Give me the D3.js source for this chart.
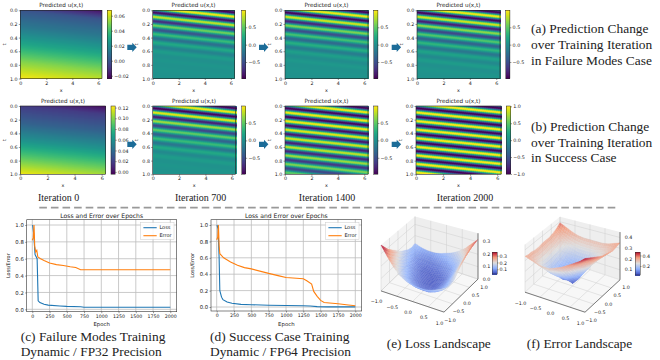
<!DOCTYPE html>
<html>
<head>
<meta charset="utf-8">
<script src="https://cdn.jsdelivr.net/npm/d3@7/dist/d3.min.js"></script>
<style>
body { margin: 0; background: #fff; }
text { font-family: "DejaVu Sans", sans-serif; fill: #222; }
.cap { font-family: "Liberation Serif", serif; fill: #222; }
.axis path { display: none; }
.axis line { stroke: #333; stroke-width: 0.5; }
.axis text { font-size: 4.8px; }
.ln text { font-size: 4.7px; }
.ly text { font-size: 5.3px; }
.cell { shape-rendering: crispEdges; }
</style>
</head>
<body>
<svg width="660" height="360"></svg>
<script>
// ---- heatmaps: u at the ridge/trough positions, read along the left edge of each panel
var stripePos = [-0.157,-0.094,-0.031,0.031,0.094,0.157,0.220,0.283,0.346,0.408,0.471,0.534,0.597,0.660,0.723,0.785,0.848,0.911,0.974,1.037];
var u700a  = [0.9,-0.95,0.95,-0.9,0.8,-0.7,0.55,-0.45,0.35,-0.25,0.2,-0.1,0.1,0,0.05,0.02,0.04,0.03,0.03,0.03];
var u1400a = [0.9,-0.95,0.95,-0.95,0.85,-0.75,0.6,-0.5,0.4,-0.3,0.25,-0.15,0.12,-0.02,0.07,0.02,0.04,0.03,0.03,0.03];
var u2000a = [0.9,-0.95,0.95,-0.95,0.85,-0.8,0.65,-0.55,0.45,-0.35,0.3,-0.2,0.15,-0.05,0.1,0,0.05,0.03,0.03,0.03];
var u700b  = [0.9,-0.95,0.95,-0.95,0.9,-0.8,0.7,-0.55,0.5,-0.35,0.35,-0.2,0.2,-0.05,0.1,0.02,0.05,0.03,0.04,0.03];
var u1400b = [0.9,-0.95,0.95,-0.95,0.95,-0.95,0.95,-0.9,0.9,-0.85,0.85,-0.8,0.8,-0.75,0.7,-0.65,0.6,-0.55,0.5,-0.45];
var u2000b = [0.95,-1,1,-1,1,-1,1,-1,1,-1,1,-1,1,-1,1,-1,1,-1,1,-1];
var smoothPos = [-0.13,0,0.25,0.5,0.75,1];
var u0a = [-0.02,0.0,0.013,0.03,0.05,0.066];
var u0b = [-0.003,0.018,0.035,0.06,0.09,0.12];

var ticks0a = [-0.02,0,0.02,0.04,0.06];
var ticks0b = [0,0.02,0.04,0.06,0.08,0.10,0.12];
var ticksStripe = [-0.5,0,0.5];
var ticks2000b = [-1,-0.5,0,0.5,1];

// ---- training curves
var epochLossC = [5,20,40,70,85,110,170,230,400,500,700,750,1000,2000];
var lossC = [1,0.9,0.65,0.6,0.1,0.08,0.06,0.05,0.04,0.035,0.03,0.025,0.025,0.025];
var epochErrC = [0,15,25,35,50,65,80,120,170,250,350,450,550,630,700,750,1000,2000];
var errC = [0.82,0.85,1,0.75,0.68,0.7,0.62,0.6,0.58,0.55,0.53,0.52,0.505,0.495,0.47,0.47,0.47,0.47];
var epochLossD = [5,20,35,45,70,90,150,220,350,500,750,1000,1250,1350,1450,1600,2000];
var lossD = [1,0.95,0.6,0.2,0.12,0.09,0.06,0.045,0.032,0.028,0.022,0.018,0.015,0.012,0.005,0.002,0.002];
var epochErrD = [0,15,25,35,45,100,200,300,400,500,750,900,1000,1150,1250,1300,1370,1400,1450,1500,1550,1750,1900,2000];
var errD = [0.82,0.85,1,0.75,0.65,0.6,0.55,0.51,0.48,0.465,0.41,0.38,0.36,0.35,0.345,0.32,0.28,0.19,0.13,0.08,0.055,0.04,0.025,0.015];
var epochTicks = [0,250,500,750,1000,1250,1500,1750,2000];
var ratioTicks = [0,0.2,0.4,0.6,0.8,1];

// ---- landscapes, rows run y = 1 .. -1, columns x = -1 .. 1
var lossGrid = [
  [.13,.11,.10,.10,.11,.13,.15,.18,.22,.27,.32],
  [.12,.09,.075,.07,.08,.09,.11,.14,.18,.24,.31],
  [.13,.09,.065,.055,.055,.065,.08,.10,.14,.21,.30],
  [.15,.10,.065,.045,.04,.045,.06,.08,.12,.19,.285],
  [.17,.12,.075,.05,.035,.035,.04,.06,.10,.17,.26],
  [.20,.14,.09,.06,.04,.03,.035,.05,.09,.15,.235],
  [.23,.16,.11,.07,.05,.035,.035,.05,.08,.13,.20],
  [.26,.19,.13,.09,.06,.045,.04,.05,.08,.115,.17],
  [.29,.22,.16,.11,.08,.06,.055,.06,.08,.11,.16],
  [.33,.25,.19,.14,.105,.085,.08,.08,.095,.12,.16],
  [.37,.29,.22,.17,.14,.125,.12,.12,.13,.15,.17]
];
var errorGrid = [
  [.39,.36,.33,.31,.30,.30,.30,.30,.31,.33,.35],
  [.36,.31,.28,.26,.25,.25,.25,.26,.27,.30,.34],
  [.34,.29,.24,.21,.19,.19,.20,.22,.25,.29,.33],
  [.33,.28,.22,.17,.14,.13,.15,.19,.24,.29,.34],
  [.33,.27,.21,.15,.09,.07,.11,.18,.24,.30,.35],
  [.33,.27,.20,.13,.07,.03,.09,.17,.24,.31,.36],
  [.32,.26,.19,.13,.08,.09,.14,.20,.26,.32,.38],
  [.32,.26,.20,.15,.13,.14,.18,.24,.29,.35,.40],
  [.33,.27,.22,.18,.17,.19,.23,.28,.33,.38,.42],
  [.33,.29,.25,.23,.23,.25,.28,.32,.36,.40,.44],
  [.34,.32,.30,.29,.29,.31,.33,.36,.39,.42,.46]
];

var svg = d3.select("svg");
var smoothEase = function(a, b) { return function(t) { return a + (b - a) * d3.easeSinInOut(t); }; };

// one imshow panel with its colorbar
function heatmap(o) {
    var x = d3.scaleLinear().domain([0, 2 * Math.PI]).range([o.x0, o.x1]);
    var y = d3.scaleLinear().domain([0, 1]).range([o.y0, o.y1]);
    var color = d3.scaleSequential(d3.interpolateViridis).domain(o.range);
    var profile = d3.scaleLinear().domain(o.pos).range(o.u).clamp(true);
    if (o.stripes) profile.interpolate(smoothEase);

    var cols = d3.range(Math.round(o.x0), Math.round(o.x1), 2), rows = d3.range(Math.round(o.y0), Math.round(o.y1), 1);
    var g = svg.append("g").attr("class", "cell");
    rows.forEach(function(py) {
        g.selectAll(null).data(cols).enter().append("rect")
            .attr("x", function(px) { return px; })
            .attr("y", py)
            .attr("width", 2)
            .attr("height", 1)
            .attr("fill", function(px) {
                // ridges run down to the right by o.tilt over the full x range
                var s = y.invert(py + 0.5) - o.tilt * (x.invert(px + 1) / (2 * Math.PI));
                return color(profile(s));
            });
    });
    svg.append("rect").attr("x", o.x0).attr("y", o.y0)
        .attr("width", o.x1 - o.x0).attr("height", o.y1 - o.y0)
        .attr("fill", "none").attr("stroke", "#222").attr("stroke-width", 0.6);

    svg.append("g").attr("class", "axis").attr("transform", "translate(0," + o.y1 + ")")
        .call(d3.axisBottom(x).tickValues([0, 2, 4, 6]).tickSize(1.5).tickPadding(1.2).tickFormat(d3.format("d")));
    svg.append("g").attr("class", "axis").attr("transform", "translate(" + o.x0 + ",0)")
        .call(d3.axisLeft(y).tickValues([0, 0.2, 0.4, 0.6, 0.8, 1]).tickSize(1.5).tickPadding(1.2).tickFormat(d3.format(".1f")));

    svg.append("text").attr("x", (o.x0 + o.x1) / 2).attr("y", o.y0 - 3)
        .attr("text-anchor", "middle").attr("font-size", 5.7).text("Predicted u(x,t)");
    svg.append("text").attr("x", (o.x0 + o.x1) / 2).attr("y", o.y1 + 13)
        .attr("text-anchor", "middle").attr("font-size", 4.8).text("x");
    svg.append("text").attr("transform", "translate(" + (o.x0 - 14.5) + "," + ((o.y0 + o.y1) / 2) + ") rotate(-90)")
        .attr("text-anchor", "middle").attr("font-size", 4.8).text("t");

    // colorbar
    var cb = d3.scaleLinear().domain(o.range).range([o.y1, o.y0]);
    svg.append("g").attr("class", "cell").selectAll("rect").data(rows).enter().append("rect")
        .attr("x", o.cb).attr("y", function(d) { return d; })
        .attr("width", 4.2).attr("height", 1)
        .attr("fill", function(d) { return color(cb.invert(d + 0.5)); });
    svg.append("rect").attr("x", o.cb).attr("y", o.y0).attr("width", 4.2).attr("height", o.y1 - o.y0)
        .attr("fill", "none").attr("stroke", "#222").attr("stroke-width", 0.5);
    svg.append("g").attr("class", "axis").attr("transform", "translate(" + (o.cb + 4.2) + ",0)")
        .call(d3.axisRight(cb).tickValues(o.ticks).tickSize(1.5).tickPadding(1.2).tickFormat(d3.format(o.fmt)));
}

var row1 = {y0: 10.3, y1: 78.5};
var row2 = {y0: 106, y1: 174.3};
var yA = [row1, row2];
var panels = [
  {r: 0, x0: 20.3, x1: 102, cb: 107.3, pos: smoothPos, u: u0a, tilt: 0.13, range: [-0.0237, 0.0672], ticks: ticks0a, fmt: ".2f"},
  {r: 0, x0: 152.7, x1: 234.5, cb: 241.5, pos: stripePos, u: u700a, tilt: 0.1257, stripes: 1, range: [-0.975, 0.99], ticks: ticksStripe, fmt: ".1f"},
  {r: 0, x0: 285, x1: 368, cb: 373.7, pos: stripePos, u: u1400a, tilt: 0.1257, stripes: 1, range: [-0.975, 0.99], ticks: ticksStripe, fmt: ".1f"},
  {r: 0, x0: 417, x1: 500, cb: 505.7, pos: stripePos, u: u2000a, tilt: 0.1257, stripes: 1, range: [-0.975, 0.99], ticks: ticksStripe, fmt: ".1f"},
  {r: 1, x0: 20.3, x1: 105.5, cb: 111, pos: smoothPos, u: u0b, tilt: 0.12, range: [-0.0045, 0.123], ticks: ticks0b, fmt: ".2f"},
  {r: 1, x0: 152.7, x1: 235.5, cb: 241.5, pos: stripePos, u: u700b, tilt: 0.1257, stripes: 1, range: [-0.975, 0.99], ticks: ticksStripe, fmt: ".1f"},
  {r: 1, x0: 285, x1: 368, cb: 373.7, pos: stripePos, u: u1400b, tilt: 0.1257, stripes: 1, range: [-0.975, 0.99], ticks: ticksStripe, fmt: ".1f"},
  {r: 1, x0: 416, x1: 501, cb: 506.3, pos: stripePos, u: u2000b, tilt: 0.1257, stripes: 1, range: [-1.01, 1.01], ticks: ticks2000b, fmt: ".1f"}
];
panels.forEach(function(p) {
    p.y0 = yA[p.r].y0;
    p.y1 = yA[p.r].y1;
    heatmap(p);
});

// block arrows between the panels
[[127.3, 47.3], [259, 47.3], [391.7, 47.3], [127.3, 144.3], [259, 144.3], [391.7, 144.3]].forEach(function(a) {
    svg.append("path")
        .attr("transform", "translate(" + a[0] + "," + a[1] + ")")
        .attr("d", "M0,-2.6H5V-4.6L9.4,0L5,4.6V2.6H0Z")
        .attr("fill", "#1c6c98");
});

function caption(x, y, size, str, anchor) {
    svg.append("text").attr("class", "cap").attr("x", x).attr("y", y)
        .attr("font-size", size).attr("text-anchor", anchor || "start").text(str);
}
caption(531, 33, 13.4, "(a) Prediction Change");
caption(531, 49, 13.4, "over Training Iteration");
caption(531, 65, 13.4, "in Failure Modes Case");
caption(531, 131, 13.4, "(b) Prediction Change");
caption(531, 146.7, 13.4, "over Training Iteration");
caption(531, 162, 13.4, "in Success Case");
caption(58.7, 200.7, 10, "Iteration 0", "middle");
caption(200.7, 200.7, 10, "Iteration 700", "middle");
caption(327, 200.7, 10, "Iteration 1400", "middle");
caption(465, 200.7, 10, "Iteration 2000", "middle");

svg.append("line").attr("x1", 39.3).attr("x2", 618).attr("y1", 207.7).attr("y2", 207.7)
    .attr("stroke", "#999").attr("stroke-width", 1.8).attr("stroke-dasharray", "7.6,4");

// loss / error line chart
function lineChart(o) {
    var x = d3.scaleLinear().domain([0, 2000]).range([o.x0, o.x2000]);
    var y = d3.scaleLinear().domain([0, 1]).range([o.y0, o.y1]);
    var g = svg.append("g");

    g.selectAll(".gx").data(epochTicks).enter().append("line")
        .attr("x1", x).attr("x2", x).attr("y1", o.top).attr("y2", o.bottom)
        .attr("stroke", "#bdbdbd").attr("stroke-width", 0.8);
    g.selectAll(".gy").data(ratioTicks).enter().append("line")
        .attr("y1", y).attr("y2", y).attr("x1", o.left).attr("x2", o.right)
        .attr("stroke", "#bdbdbd").attr("stroke-width", 0.8);

    var line = d3.line()
        .x(function(d) { return x(d[0]); })
        .y(function(d) { return y(d[1]); });
    g.append("path").attr("d", line(d3.zip(o.epochLoss, o.loss)))
        .attr("fill", "none").attr("stroke", "#1f77b4").attr("stroke-width", 1.1);
    g.append("path").attr("d", line(d3.zip(o.epochErr, o.err)))
        .attr("fill", "none").attr("stroke", "#ff7f0e").attr("stroke-width", 1.1);

    g.append("rect").attr("x", o.left).attr("y", o.top)
        .attr("width", o.right - o.left).attr("height", o.bottom - o.top)
        .attr("fill", "none").attr("stroke", "#333").attr("stroke-width", 0.6);

    svg.append("g").attr("class", "axis ln").attr("transform", "translate(0," + o.bottom + ")")
        .call(d3.axisBottom(x).tickValues(epochTicks).tickSize(1.5).tickPadding(1.4).tickFormat(d3.format("d")));
    svg.append("g").attr("class", "axis ly").attr("transform", "translate(" + o.left + ",0)")
        .call(d3.axisLeft(y).tickValues(ratioTicks).tickSize(1.5).tickPadding(1.4).tickFormat(d3.format(".1f")));

    svg.append("text").attr("x", (o.left + o.right) / 2).attr("y", 217.7)
        .attr("text-anchor", "middle").attr("font-size", 6.1).text("Loss and Error over Epochs");
    svg.append("text").attr("x", (o.left + o.right) / 2).attr("y", 326)
        .attr("text-anchor", "middle").attr("font-size", 5.4).text("Epoch");
    svg.append("text").attr("transform", "translate(" + (o.left - 17) + "," + ((o.top + o.bottom) / 2) + ") rotate(-90)")
        .attr("text-anchor", "middle").attr("font-size", 5).text("Loss/Error");

    // legend
    var lx = o.right - 36;
    svg.append("rect").attr("x", lx).attr("y", 222.7).attr("width", 33.3).attr("height", 16.6)
        .attr("fill", "#fff").attr("fill-opacity", 0.85).attr("stroke", "#ccc").attr("stroke-width", 0.5);
    [["Loss", "#1f77b4", 227.7], ["Error", "#ff7f0e", 235.7]].forEach(function(l) {
        svg.append("line").attr("x1", lx + 2.7).attr("x2", lx + 16).attr("y1", l[2]).attr("y2", l[2])
            .attr("stroke", l[1]).attr("stroke-width", 1.1);
        svg.append("text").attr("x", lx + 18.7).attr("y", l[2] + 1.7).attr("font-size", 5).text(l[0]);
    });
}

lineChart({x0: 32.3, x2000: 170.3, y0: 309.3, y1: 225, left: 26.7, right: 176.7, top: 219.7, bottom: 311.7,
    epochLoss: epochLossC, loss: lossC, epochErr: epochErrC, err: errC});
lineChart({x0: 216.7, x2000: 355.3, y0: 307, y1: 225, left: 211, right: 361.7, top: 219.7, bottom: 311,
    epochLoss: epochLossD, loss: lossD, epochErr: epochErrD, err: errD});

caption(20.7, 340.7, 13.4, "(c) Failure Modes Training");
caption(20.7, 355.7, 13.4, "Dynamic / FP32 Precision");
caption(210, 340.7, 13.4, "(d) Success Case Training");
caption(210, 355.7, 13.4, "Dynamic / FP64 Precision");
caption(386.7, 347.7, 13.4, "(e) Loss Landscape");
caption(526.7, 347.7, 13.4, "(f) Error Landscape");

var coolwarm = d3.scaleLinear().domain([0, 0.25, 0.5, 0.75, 1])
    .range(["#3b4cc0", "#8db0fe", "#dddcdc", "#f49a7b", "#b40426"]);

// mplot3d style surface, the view is fixed by the floor centre and the two floor axes
function landscape(o) {
    var sx = d3.scaleLinear().domain([-1, 1]).range([-o.ex[0], o.ex[0]]);
    var sxy = d3.scaleLinear().domain([-1, 1]).range([-o.ex[1], o.ex[1]]);
    var syx = d3.scaleLinear().domain([-1, 1]).range([-o.ey[0], o.ey[0]]);
    var syy = d3.scaleLinear().domain([-1, 1]).range([-o.ey[1], o.ey[1]]);
    var sz = d3.scaleLinear().domain([o.z0, o.z0 + 1]).range([0, o.zScale]);
    function proj(x, y, z) {
        var depth = 1 - 0.05 * (y - x);
        return [o.cx + sx(x) + syx(y), o.cy + sxy(x) + syy(y) - sz(z) * depth];
    }
    function poly(pts, fill) {
        svg.append("path").attr("d", "M" + pts.map(function(p) { return p.join(","); }).join("L") + "Z")
            .attr("fill", fill);
    }
    var g3 = [-1, -0.5, 0, 0.5, 1];

    poly([proj(-1,-1,o.z0), proj(-1,1,o.z0), proj(-1,1,o.zTop), proj(-1,-1,o.zTop)], "#f3f3f3");
    poly([proj(-1,1,o.z0), proj(1,1,o.z0), proj(1,1,o.zTop), proj(-1,1,o.zTop)], "#eeeeee");
    poly([proj(-1,-1,o.z0), proj(1,-1,o.z0), proj(1,1,o.z0), proj(-1,1,o.z0)], "#f7f7f7");

    function seg(a, b, col, w) {
        svg.append("line").attr("x1", a[0]).attr("y1", a[1]).attr("x2", b[0]).attr("y2", b[1])
            .attr("stroke", col).attr("stroke-width", w);
    }
    g3.forEach(function(v) {
        seg(proj(v,-1,o.z0), proj(v,1,o.z0), "#cfcfcf", 0.5);
        seg(proj(v,1,o.z0), proj(v,1,o.zTop), "#cfcfcf", 0.5);
        seg(proj(-1,v,o.z0), proj(1,v,o.z0), "#cfcfcf", 0.5);
        seg(proj(-1,v,o.z0), proj(-1,v,o.zTop), "#cfcfcf", 0.5);
    });
    o.zTicks.forEach(function(v) {
        seg(proj(-1,-1,v), proj(-1,1,v), "#cfcfcf", 0.5);
        seg(proj(-1,1,v), proj(1,1,v), "#cfcfcf", 0.5);
    });

    var color = d3.scaleLinear().domain(o.cRange).range([0, 1]).clamp(true);
    var n = o.grid.length - 1, sub = 3, m = n * sub;
    function zAt(i, j) {
        // i along x, j along rows, both in subdivided steps
        var a = i / sub, b = j / sub, i0 = Math.min(Math.floor(a), n - 1), j0 = Math.min(Math.floor(b), n - 1);
        var fa = a - i0, fb = b - j0;
        return d3.interpolateNumber(
            d3.interpolateNumber(o.grid[j0][i0], o.grid[j0][i0 + 1])(fa),
            d3.interpolateNumber(o.grid[j0 + 1][i0], o.grid[j0 + 1][i0 + 1])(fa))(fb);
    }
    var gx = d3.scaleLinear().domain([0, m]).range([-1, 1]);
    var gy = d3.scaleLinear().domain([0, m]).range([1, -1]);
    var quads = [];
    d3.range(m).forEach(function(j) {
        d3.range(m).forEach(function(i) { quads.push({i: i, j: j}); });
    });
    // far corner (-1,1) first
    quads.sort(function(a, b) { return (a.i + a.j) - (b.i + b.j); });

    function quadColor(q) {
        return coolwarm(color((zAt(q.i, q.j) + zAt(q.i + 1, q.j) + zAt(q.i + 1, q.j + 1) + zAt(q.i, q.j + 1)) / 4));
    }
    var s = svg.append("g").attr("opacity", 0.85);
    s.selectAll("path").data(quads).enter().append("path")
        .attr("d", function(q) {
            var c = [[q.i, q.j], [q.i + 1, q.j], [q.i + 1, q.j + 1], [q.i, q.j + 1]].map(function(k) {
                return proj(gx(k[0]), gy(k[1]), zAt(k[0], k[1]));
            });
            return "M" + c.map(function(p) { return p.join(","); }).join("L") + "Z";
        })
        .attr("fill", quadColor)
        .attr("stroke", quadColor)
        .attr("stroke-width", 0.3);

    // axes edges and tick labels
    seg(proj(-1,-1,o.z0), proj(1,-1,o.z0), "#333", 0.6);
    seg(proj(1,-1,o.z0), proj(1,1,o.z0), "#333", 0.6);
    seg(proj(1,1,o.z0), proj(1,1,o.zTop), "#333", 0.6);

    var fmt = d3.format(".1f");
    function tick3(p, str) {
        svg.append("text").attr("x", p[0]).attr("y", p[1]).attr("text-anchor", "middle")
            .attr("dominant-baseline", "central").attr("font-size", 4.8).text(str);
    }
    g3.forEach(function(v) {
        var a = proj(v, -1, o.z0), b = proj(1, v, o.z0);
        tick3([a[0] - 4.5, a[1] + 11], fmt(v));
        tick3([b[0] + 6, b[1] + 8], fmt(v));
    });
    o.zTicks.forEach(function(v) {
        var p = proj(1, 1, v);
        tick3([p[0] + 8.5, p[1]], fmt(v));
    });

    // small colorbar
    var cb = d3.scaleLinear().domain(o.cRange).range([o.cb.y1, o.cb.y0]);
    svg.append("g").attr("class", "cell").selectAll("rect").data(d3.range(o.cb.y0, o.cb.y1, 1)).enter().append("rect")
        .attr("x", o.cb.x).attr("y", function(d) { return d; })
        .attr("width", 5).attr("height", 1.2)
        .attr("fill", function(d) { return coolwarm(color(cb.invert(d + 0.5))); });
    svg.append("rect").attr("x", o.cb.x).attr("y", o.cb.y0).attr("width", 5).attr("height", o.cb.y1 - o.cb.y0)
        .attr("fill", "none").attr("stroke", "#333").attr("stroke-width", 0.5);
    svg.append("g").attr("class", "axis").attr("transform", "translate(" + (o.cb.x + 5) + ",0)")
        .call(d3.axisRight(cb).tickValues(o.cbTicks).tickSize(1.2).tickPadding(1).tickFormat(fmt));
}

landscape({grid: lossGrid, cx: 429.5, cy: 285, ex: [31.5, 10.6], ey: [17, -16.5], z0: 0, zTop: 0.37, zScale: 124,
    zTicks: [0, 0.1, 0.2, 0.3], cRange: [0.03, 0.35], cbTicks: [0.1, 0.2, 0.3], cb: {x: 492.3, y0: 252.3, y1: 274}});
landscape({grid: errorGrid, cx: 572.5, cy: 286, ex: [30, 10], ey: [17.5, -16.2], z0: 0.007, zTop: 0.45, zScale: 107.7,
    zTicks: [0.1, 0.2, 0.3, 0.4], cRange: [0.03, 0.46], cbTicks: [0.2, 0.4], cb: {x: 635.3, y0: 252.3, y1: 275}});
</script>
</body>
</html>
